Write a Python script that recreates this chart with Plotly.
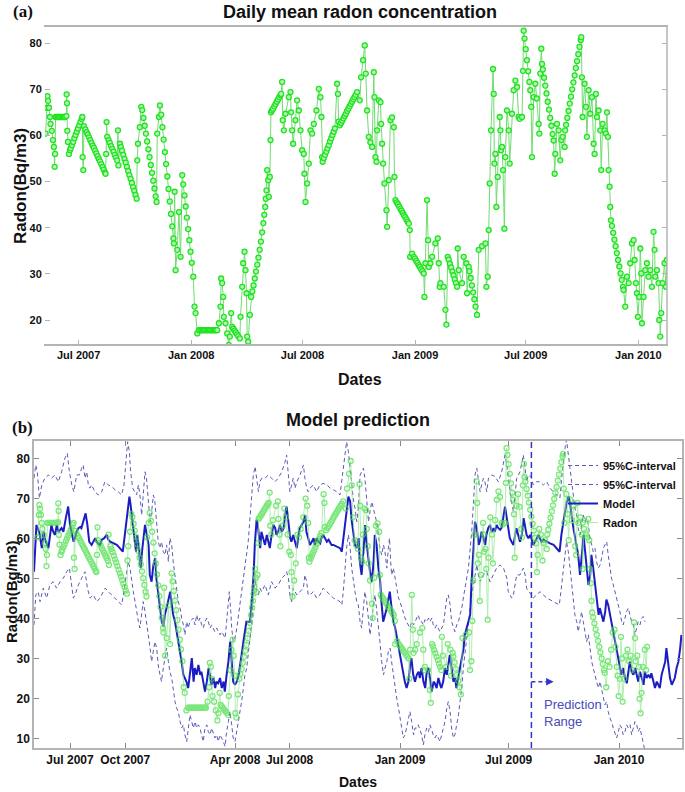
import pandas as pd
import plotly.graph_objects as go

W, H = 685, 792
START = pd.Timestamp("2007-05-01")

# daily mean radon, (days since 1 May 2007, Bq/m3)
radon_points = [
    (7, 60.4), (9, 66), (10, 68.5), (11, 67.5), (12.5, 66), (14, 64), (15, 62.5), (17, 61), (19, 59),
    (20.5, 57.5), (21.8, 53.2), (22.5, 56), (23.4, 64), (25, 64), (27, 64), (29, 64), (31, 64), (33, 64),
    (35, 64), (37, 64), (39, 64), (41, 64.2), (41.4, 68.9), (42, 67), (42.5, 61), (43.5, 58.6), (45.2, 56),
    (46.8, 56.8), (48, 57.2), (50, 57.9), (52, 58.6), (54, 59.4), (56, 60.1), (58, 60.8), (60, 61.5),
    (62, 62.2), (64, 62.9), (66, 63.6), (67, 64), (67.5, 55.3), (68.6, 52.5), (69.7, 62), (72, 61.3),
    (74, 60.7), (76, 60.2), (78, 59.6), (80, 59), (82, 58.4), (84, 57.8), (86, 57.3), (88, 56.7), (90, 56.1),
    (92, 55.5), (94, 54.9), (96, 54.4), (98, 53.8), (100, 53.2), (102, 52.6), (104, 52), (105, 51.7),
    (106, 56), (106.7, 62.9), (107.8, 59.7), (110, 59), (112, 58.4), (114, 57.7), (116, 57.1), (118, 56.5),
    (120, 55.8), (122, 55.2), (124, 54.6), (125.3, 61.1), (126, 53.5), (128.5, 58.2), (130, 57.5),
    (132, 56.7), (134, 55.8), (136, 54.9), (138, 54.1), (140, 53.2), (142, 52.3), (144, 51.4), (146, 50.6),
    (148, 49.7), (150, 48.8), (152, 48), (154, 47.1), (155.8, 46.3), (156.8, 54.6), (158, 58.2), (161, 61.8),
    (163.4, 66.2), (165, 65.5), (167, 63.8), (169, 62.1), (171, 60.4), (173, 58.7), (175, 57), (177, 55.3),
    (179, 53.6), (181, 51.9), (183, 50.2), (185, 48.5), (187, 46.8), (188.4, 45.6), (189.5, 60.4),
    (192.3, 64), (193.9, 66.5), (196, 64.5), (198, 61.8), (200, 59.1), (202, 56.4), (204, 53.8), (206, 51.1),
    (208, 48.4), (210, 45.7), (212, 43), (214, 40.3), (216, 37.7), (216.8, 36.6), (218, 47.8), (219.5, 30.8),
    (222.2, 35.2), (225, 43.4), (227.7, 33.7), (230.4, 51.4), (232, 49.4), (234, 47), (236, 44.6),
    (238, 42.2), (240, 39.7), (242, 37.3), (244, 34.8), (246, 32.4), (248.4, 29.4), (250.5, 22.9),
    (252.2, 21.5), (255, 17.1), (257.6, 17.8), (260, 17.8), (262, 17.8), (264, 17.8), (266, 17.8),
    (268, 17.8), (270, 17.8), (272, 17.8), (274, 17.8), (276, 17.8), (278, 17.8), (280, 17.8), (282, 17.8),
    (284, 17.8), (286, 17.8), (287.5, 17.8), (290.3, 19.3), (293, 22.9), (294, 29), (295.7, 28),
    (297.3, 25), (298.4, 20.7), (301.2, 19.3), (303.9, 17.1), (306.6, 14.6), (308.2, 16.4), (310.4, 21.5),
    (312, 18.5), (314, 18.1), (316, 17.7), (318, 17.3), (320, 16.9), (322, 16.5), (324.6, 16), (325.7, 20.7),
    (328.4, 27.2), (330, 32.3), (332.2, 34.8), (333.8, 30.8), (335.5, 25.8), (336.6, 16.4), (338.2, 15.3),
    (340.9, 21.1), (343.1, 25), (345, 26.2), (347, 27.5), (349, 29), (351, 30.5), (353, 32), (355, 33.5),
    (357, 35.2), (359, 37), (361, 39), (363, 41), (364.5, 42.8), (366, 44.5), (367, 46.3), (368.1, 48.1),
    (369.2, 52.5), (370.9, 50.3), (372, 46.7), (373.6, 51), (374.7, 59), (375.5, 65), (377, 65.4),
    (379, 65.8), (381, 66.3), (383, 66.8), (385, 67.3), (387, 67.8), (389, 68.3), (391, 68.7), (392.1, 69),
    (393.7, 71.6), (394.8, 63.3), (396.5, 61.1), (399.2, 64.7), (404.6, 68.3), (407.4, 69.4), (408.4, 65),
    (410.1, 61.1), (411.7, 58.2), (415.5, 63.3), (418.2, 67.6), (421, 65.4), (423.7, 61.1), (426.4, 56.8),
    (429.1, 56), (430.2, 51.7), (431.9, 45.6), (434.6, 49.6), (437.3, 53.9), (440, 61.1), (442.8, 60.4),
    (445.5, 62.5), (449.8, 65.4), (453.7, 70.1), (456.4, 68.3), (458, 64), (459.1, 55.3), (460, 54.3),
    (462, 55.1), (464, 55.8), (466, 56.5), (468, 57.2), (470, 57.9), (472, 58.7), (474, 59.4), (476, 60.1),
    (478, 60.8), (480, 61.5), (483.6, 71.2), (485, 69), (486, 63), (488, 62.2), (490, 62.7), (492, 63.2),
    (494, 63.7), (496, 64.2), (498, 64.7), (500, 65.3), (502, 65.8), (504, 66.3), (506, 66.8), (508, 67.3),
    (510, 67.8), (512, 68.3), (514, 68.8), (516.3, 69.4), (520.6, 67.6), (522.8, 72.6), (526.1, 76.3),
    (528.8, 79.5), (530.5, 73.4), (532.6, 65.4), (535.4, 59.7), (538, 58.5), (540.9, 57.5), (543.6, 73.7),
    (544.7, 68.3), (546.3, 55.3), (548, 54.3), (549, 61.1), (551.8, 67.6), (554.5, 67.2), (555.6, 62.5),
    (557.2, 58.2), (558.8, 53.9), (561, 49.6), (564.3, 43.8), (565.4, 40.2), (568.1, 50.3), (570.8, 63.3),
    (573.5, 63.9), (576.3, 61.8), (577.4, 51), (579, 46), (581, 45.5), (583, 45.1), (585, 44.6), (587, 44.1),
    (589, 43.7), (591, 43.2), (593, 42.7), (595, 42.3), (597, 41.8), (599, 41.3), (600.8, 40.9),
    (602.4, 39.5), (603, 33.7), (606.2, 34.4), (609, 33.7), (611, 33.3), (613, 32.8), (615, 32.4),
    (617, 31.9), (619, 31.5), (621, 31), (623, 30.6), (625.3, 30.1), (626.4, 25), (628, 32.3), (630.7, 46),
    (632.4, 37.3), (633.5, 31.5), (636.2, 32.3), (638.9, 33.7), (644.3, 36.6), (648.2, 37.7), (649.8, 32.3),
    (651.4, 27.2), (652.5, 28), (658, 27.2), (660.7, 22.2), (662.3, 19), (664.5, 33.7), (666, 33.1),
    (668, 32.2), (670, 31.4), (672, 30.5), (674, 29.7), (676, 28.8), (678, 28), (679.8, 27.2), (680.8, 35.5),
    (682.5, 30.8), (687.9, 28), (690.6, 33.7), (695, 32.3), (696.1, 25.8), (698.8, 31.5), (700, 30.6),
    (702, 29.1), (704, 27.5), (706, 26), (708, 24.5), (710, 22.9), (712.4, 21.1), (715.2, 35.2), (720.6, 36),
    (726.1, 36.6), (727.7, 27.2), (729.9, 29.4), (731.5, 39.5), (733.1, 49.6), (735.3, 61.1), (738.6, 74.4),
    (739.7, 69), (740.8, 53.9), (742.4, 56), (744, 44.5), (746.2, 51), (749.5, 64), (750.6, 61.1),
    (751.6, 56.8), (753.3, 57.5), (754.9, 52.5), (757.1, 39.8), (758.7, 55.3), (761.4, 65.4), (764.2, 61.1),
    (765.8, 53.9), (769.6, 64.7), (772.3, 69.8), (775.1, 71.9), (777.8, 70.5), (780.4, 64), (782.2, 63.6),
    (786, 64), (787.5, 74), (788.6, 82.7), (790, 81), (792, 78.7), (794, 76.3), (796, 73.9), (798, 71.6),
    (799.5, 69.8), (801, 66.2), (802.2, 55.3), (805, 68.3), (807.7, 71.2), (810, 68), (813.1, 62.5),
    (814.2, 60.4), (815.8, 73.4), (817.5, 78.8), (818.6, 75.5), (820, 74.3), (822, 72.5), (824, 70.8),
    (826, 69.1), (828, 67.3), (830, 65.6), (832, 63.8), (834, 62.1), (836, 60.3), (837.6, 58.9),
    (839.3, 51.7), (840.4, 56), (843.1, 62.5), (845.8, 61.1), (848.5, 54.6), (850.2, 59), (852.3, 59.7),
    (855.6, 57.5), (856.5, 61.1), (858, 62.3), (860, 63.8), (862, 65.3), (864, 66.9), (866, 68.4), (868, 70),
    (870, 71.5), (872, 73), (874, 74.6), (876, 76.1), (878, 77.6), (880, 79.2), (882, 80.7), (882.8, 81.3),
    (883.9, 72.6), (885, 64), (888.3, 71.2), (890.5, 66.2), (892.1, 59.7), (894.8, 69.8), (897.5, 64.7),
    (900.3, 68.3), (903, 58.2), (904.6, 56), (906.8, 69), (908.4, 64), (911.2, 65.4), (913.9, 61.1),
    (915.5, 52.5), (917.7, 62.5), (921, 61.1), (923.1, 60.4), (924.8, 65), (926.4, 59.7), (927.5, 52.5),
    (929.1, 48.9), (930.2, 44.5), (931.3, 41.6), (933, 40.4), (935, 38.9), (937, 37.4), (939, 36),
    (941, 34.5), (943, 33), (945, 31.6), (947, 30.1), (949, 28.7), (951, 27.2), (952, 26.5), (954.7, 22.9),
    (957.5, 29.4), (960.2, 28), (962.9, 32.3), (965.6, 36.6), (968.4, 37.3), (970, 33), (972.2, 28),
    (973.8, 25.8), (975.4, 20.7), (977.6, 25), (979.3, 35.5), (980.9, 30.1), (982, 19.3), (984.7, 25),
    (987.4, 30.8), (990.1, 32.3), (992.9, 29.4), (995.6, 30.8), (998.3, 27.2), (1001, 39.1), (1002.7, 35.2),
    (1003.8, 29.4), (1006.5, 30.8), (1009.2, 28), (1010.3, 20), (1012, 16.4), (1013.6, 21.5), (1015.7, 28),
    (1019, 32.3), (1021.2, 27.2), (1022.8, 33),
]

# model output
model_points = [
    (1, 51.8), (5, 63.5), (10, 61.5), (14, 57.7), (17, 61.8), (19, 60), (25, 57.7), (28, 61.8), (30, 63.5),
    (33, 61.8), (36, 61), (39, 63.5), (42, 61.8), (47, 62.7), (50, 61.8), (54, 65.2), (58, 68.1), (61, 63.5),
    (64, 61), (67, 59.3), (69, 60.2), (72, 61.8), (75, 62.7), (78, 63), (80, 62.7), (83, 64.3), (87, 66.4),
    (90, 63.5), (93, 59.3), (97, 58.5), (100, 59.3), (103, 60.2), (105, 59.3), (108, 58.9), (111, 58.5),
    (114, 59.8), (118, 60.2), (122, 61), (125, 59.8), (128, 59.3), (133, 58.9), (139, 58.5), (144, 57.7),
    (149, 56.8), (151, 59.3), (154, 63.5), (158, 67.7), (160, 70.6), (162, 68.5), (165, 64.3), (168, 60.2),
    (171, 56.8), (173, 61), (175, 58.5), (179, 52.7), (181, 56.8), (183, 60.2), (186, 63.5), (189, 61),
    (192, 58.5), (194, 51), (197, 49.3), (200, 53.5), (203, 55.2), (205, 50.2), (208, 46), (211, 42.7),
    (214, 39.3), (217, 38.1), (219, 41), (222, 42.7), (225, 45.2), (228, 46.8), (230, 44.3), (233, 41),
    (236, 39.3), (239, 36.8), (242, 34.3), (244, 31.8), (247, 29.3), (250, 26), (253, 25.2), (255, 24.3),
    (258, 22.7), (261, 26), (264, 30.2), (267, 24.3), (269, 27.7), (272, 26), (275, 28.5), (278, 26),
    (280, 26.8), (283, 24.3), (286, 21.8), (289, 24.3), (292, 27.7), (294, 26), (297, 23.5), (300, 25.2),
    (303, 22.7), (305, 24.3), (308, 23.9), (311, 25.2), (314, 22.7), (317, 24.3), (319, 21.8), (322, 26),
    (325, 29.3), (328, 34.3), (330, 31), (333, 24.3), (336, 23.5), (339, 24.3), (342, 26), (344, 27.7),
    (347, 31), (350, 34.3), (353, 36.8), (355, 39.3), (358, 39.3), (361, 39.3), (364, 44.3), (367, 51),
    (369, 58.5), (372, 64.8), (374, 63.5), (376, 60.2), (378, 57.7), (380, 61.8), (383, 60.2), (386, 58.5),
    (389, 61), (392, 59.3), (394, 57.7), (397, 61), (400, 63.5), (403, 62.7), (405, 61), (408, 61.8),
    (411, 63.5), (414, 61.8), (417, 62.7), (419, 65.2), (422, 68.1), (425, 64.3), (428, 60.2), (430, 59.3),
    (433, 61), (436, 59.3), (439, 57.7), (442, 61), (444, 62.7), (447, 63.5), (450, 64.3), (453, 66),
    (455, 61.8), (458, 60.2), (461, 58.5), (464, 59.3), (467, 60.2), (469, 58.5), (472, 60.2), (475, 59.3),
    (478, 58.9), (480, 60.2), (483, 61), (486, 60.2), (489, 59.3), (492, 59.8), (494, 59.3), (497, 58.5),
    (500, 58.5), (505, 58.1), (511, 57.7), (514, 56.8), (517, 61), (519, 63.5), (522, 66.8), (525, 70.6),
    (528, 69.3), (530, 65.2), (533, 61.8), (536, 58.5), (539, 57.7), (542, 60.2), (544, 54.3), (547, 51),
    (550, 56.8), (553, 63.5), (555, 59.3), (558, 55.2), (561, 51.8), (564, 49.3), (567, 54.3), (569, 61),
    (572, 58.5), (575, 52.7), (578, 49.3), (580, 44.3), (583, 39.3), (586, 41), (589, 42.7), (592, 45.2),
    (594, 46.8), (597, 42.7), (600, 39.3), (603, 37.7), (605, 36), (608, 33.5), (611, 31), (614, 28.5),
    (617, 26), (619, 24.3), (622, 22.7), (625, 24.3), (628, 28.5), (630, 30.2), (633, 26), (636, 24.3),
    (639, 26), (642, 26.8), (644, 25.2), (647, 27.7), (650, 24.3), (653, 22.7), (655, 26), (658, 27.7),
    (661, 25.2), (664, 21.8), (667, 24.3), (669, 23.9), (672, 22.7), (675, 25.2), (678, 23.5), (680, 22.7),
    (683, 24.3), (686, 27.7), (689, 26), (692, 28.5), (694, 31), (697, 27.7), (700, 24.3), (703, 25.2),
    (705, 22.7), (708, 25.2), (711, 27.7), (714, 29.3), (717, 32.7), (719, 36), (722, 37.7), (725, 39.3),
    (728, 41), (730, 48.5), (733, 56.8), (736, 64.3), (739, 62.7), (742, 58.5), (744, 59.3), (747, 61.8),
    (750, 60.2), (753, 58.5), (755, 61), (758, 62.7), (761, 63.5), (764, 61.8), (767, 62.7), (769, 61.8),
    (772, 63.5), (775, 62.7), (778, 62.3), (780, 62.7), (783, 65.2), (786, 68.1), (789, 65.2), (792, 61.8),
    (794, 60.2), (797, 59.3), (800, 58.5), (803, 61), (805, 62.7), (808, 61), (811, 59.3), (814, 61),
    (817, 65.2), (819, 63.5), (822, 61), (825, 60.2), (828, 61), (830, 60.2), (833, 58.5), (836, 59.3),
    (839, 60.2), (842, 61), (844, 60.2), (847, 59.3), (850, 59.8), (855, 59.3), (861, 58.9), (867, 58.5),
    (872, 57.7), (877, 56.8), (880, 61), (883, 64.3), (886, 66.8), (889, 69.3), (892, 70.6), (894, 69.3),
    (897, 65.2), (900, 62.7), (903, 60.2), (905, 58.5), (908, 56), (911, 51), (914, 56), (917, 61),
    (919, 57.7), (922, 52.7), (925, 48.5), (928, 51), (930, 56), (933, 52.7), (936, 48.5), (939, 44.3),
    (942, 41), (944, 42.7), (947, 41), (950, 39.3), (953, 41.8), (955, 44.8), (958, 43.5), (961, 41),
    (964, 38.5), (967, 36.8), (969, 34.3), (972, 31.8), (975, 29.3), (978, 26.8), (980, 26), (983, 27.7),
    (986, 25.2), (989, 23.9), (992, 27.7), (994, 29.3), (997, 26.8), (1000, 26), (1003, 27.7), (1005, 26),
    (1008, 24.3), (1011, 26.8), (1014, 25.2), (1017, 23.5), (1019, 26.8), (1022, 25.2), (1025, 26),
    (1028, 25.2), (1030, 26.4), (1033, 24.3), (1036, 22.7), (1039, 24.3), (1042, 23.5), (1044, 22.7),
    (1047, 26), (1050, 27.7), (1053, 29.3), (1055, 32.7), (1058, 29.3), (1061, 25.2), (1064, 23.5),
    (1067, 24.3), (1069, 25.2), (1072, 27.7), (1075, 29.3), (1078, 32.7), (1080, 36),
]

# upper 95% confidence bound
upper_points = [
    (1, 75.2), (4, 78.5), (6.5, 76.8), (10, 70.2), (14, 73.5), (19, 75.2), (25, 76), (30, 75.2), (36, 76),
    (41.5, 74.3), (47, 76.8), (52.5, 80.2), (56.5, 81.4), (60, 76.8), (64, 73.5), (67.5, 71.8), (72, 76),
    (76.5, 76), (80.5, 77.7), (83, 78.5), (86, 75.2), (89, 76.8), (91.5, 73.5), (94, 72.7), (97, 73.5),
    (102.5, 71.8), (108, 71), (114, 71.8), (119, 74.3), (125, 73.5), (130.5, 73.1), (136, 72.3),
    (141.5, 71.8), (147, 71), (151, 73.5), (154.5, 81), (157, 84.3), (160, 81.8), (162, 76.8),
    (165.5, 72.7), (169, 71.8), (172, 71), (175, 73.5), (177.5, 71), (180.5, 66), (183, 71.8), (186, 76.8),
    (188.5, 75.2), (191.5, 70.2), (194.5, 64.3), (197, 66.8), (200, 71), (202.5, 69.3), (205.5, 62.7),
    (208, 59.3), (211, 57.7), (213.5, 59.3), (216.5, 56.8), (219.5, 56), (222, 58.5), (225, 54.3),
    (227.5, 60.2), (230.5, 58.5), (233, 54.3), (236, 51), (238.5, 47.7), (241.5, 44.3), (244.5, 42.7),
    (247, 40.2), (250, 38.5), (252.5, 36), (255.5, 39.3), (258, 37.7), (261, 39.3), (266.5, 40.2),
    (269.5, 38.5), (272, 41), (275, 39.3), (277.5, 40.2), (280.5, 38.5), (283, 37.7), (286, 39.3),
    (289, 40.2), (291.5, 39.3), (294.5, 37.7), (297, 38.5), (300, 37.7), (302.5, 36.8), (305.5, 37.7),
    (308, 36.8), (311, 36), (314, 36.8), (316.5, 36), (319.5, 35.2), (322, 39.3), (325, 44.3), (326.5, 46.8),
    (329, 41.8), (330.5, 37.7), (333, 34.3), (336, 35.2), (339, 37.7), (341.5, 41), (344.5, 44.3),
    (347, 46.8), (350, 50.2), (352.5, 52.7), (355.5, 56), (358, 59.3), (361, 65.2), (364, 71), (366.5, 76),
    (369.5, 78.1), (372, 75.2), (375, 71.8), (377.5, 74.3), (380.5, 75.2), (386, 75.2), (391.5, 76),
    (397, 75.2), (402.5, 74.3), (408, 75.2), (414, 76.8), (419.5, 79.3), (422, 81), (425, 76), (427.5, 71.8),
    (430.5, 73.5), (433, 75.2), (436, 72.7), (439, 74.3), (444.5, 76), (450, 78.5), (452.5, 75.2),
    (455.5, 72.7), (458, 71.8), (461, 72.7), (466.5, 73.5), (472, 71.8), (477.5, 73.5), (483, 73.9),
    (489, 73.5), (494.5, 72.7), (500, 72.3), (505.5, 71.8), (511, 71), (514, 74.3), (516.5, 77.7),
    (519.5, 81), (522, 84.3), (525, 81.8), (527.5, 77.7), (530.5, 73.5), (533, 70.2), (536, 67.7),
    (539, 64.3), (541.5, 67.7), (544.5, 76), (547, 76.8), (550, 77.7), (552.5, 75.2), (555.5, 69.3),
    (558.5, 64.3), (561, 66.8), (564, 69.3), (566.5, 67.7), (569.5, 66), (572, 64.3), (575, 61),
    (577.5, 57.7), (580.5, 56), (583.5, 58.5), (586, 56.8), (589, 52.7), (591.5, 57.7), (593.5, 60.2),
    (595.5, 54.3), (597, 51), (600, 52.7), (602.5, 50.2), (605.5, 47.7), (608.5, 45.2), (611, 44.3),
    (614, 42.7), (616.5, 41.8), (619.5, 40.2), (622, 39.3), (625, 38.5), (627.5, 37.7), (630.5, 39.3),
    (633.5, 38.5), (636, 39.3), (639, 40.2), (641.5, 41), (644.5, 39.3), (647, 39.3), (650, 38.5),
    (652.5, 39.8), (655.5, 39.3), (658.5, 40.2), (661, 39.3), (664, 40.2), (666.5, 38.5), (669.5, 37.7),
    (672, 38.5), (675, 37.7), (677.5, 36.8), (680.5, 37.7), (683.5, 38.5), (686, 41.8), (689, 45.2),
    (691.5, 46), (694.5, 43.5), (697, 39.3), (700, 37.7), (702.5, 36.8), (705.5, 38.5), (708.5, 39.3),
    (711, 41), (714, 42.7), (716.5, 45.2), (719.5, 47.7), (722, 49.3), (725, 52.7), (727.5, 56.8),
    (730.5, 61.8), (733.5, 69.3), (736, 76), (739, 77.7), (741.5, 75.2), (744.5, 71.8), (747, 73.5),
    (750, 75.2), (752.5, 74.3), (755.5, 71.8), (758.5, 75.2), (764, 76), (769.5, 75.6), (775, 74.3),
    (780.5, 76.8), (783.5, 79.3), (786, 81), (789, 78.5), (791.5, 75.2), (794.5, 72.7), (797, 69.3),
    (800, 66.8), (802.5, 70.2), (805.5, 75.2), (811, 76.8), (816.5, 81), (819.5, 77.7), (822, 74.3),
    (825, 76), (830.5, 75.2), (833, 73.5), (838.5, 74.3), (844.5, 74.3), (850, 73.5), (855.5, 74.3),
    (861, 72.7), (866.5, 71.8), (872, 71), (877.5, 70.2), (880.5, 75.2), (883, 79.3), (886, 82.7),
    (888.5, 84.8), (891.5, 81), (894.5, 76.8), (897, 73.5), (900, 70.2), (902.5, 67.7), (905.5, 66),
    (908, 62.7), (911, 61), (913.5, 63.5), (916.5, 66), (919.5, 64.3), (922, 65.2), (925, 63.5),
    (927.5, 60.2), (930.5, 58.5), (933, 56.8), (936, 57.7), (938.5, 54.3), (941.5, 52.7), (944.5, 53.5),
    (947, 55.2), (950, 57.7), (952.5, 58.5), (955.5, 59.3), (958, 56), (961, 52.7), (963.5, 50.2),
    (966.5, 48.5), (969.5, 46.8), (972, 45.2), (975, 43.5), (977.5, 41.8), (980.5, 39.3), (983, 38.5),
    (986, 40.2), (988.5, 41.8), (991.5, 42.7), (994.5, 41), (997, 39.3), (1000, 38.5), (1002.5, 36),
    (1005.5, 37.7), (1008, 39.3), (1011, 38.5), (1013.5, 40.2), (1016.5, 40.6), (1019.5, 39.3),
]

# lower 95% confidence bound
lower_points = [
    (1, 38.5), (4, 46), (8, 46.8), (11, 44.3), (16.5, 47.7), (22, 45.2), (27.5, 48.5), (33, 49.3),
    (38.5, 47.7), (44.5, 49.3), (50, 50.2), (55.5, 51.8), (60, 52.7), (63.5, 47.7), (66.5, 45.2),
    (69.5, 46), (75, 48.5), (80.5, 50.2), (86, 51.8), (90, 47.7), (94.5, 45.2), (100, 46), (105.5, 44.3),
    (111, 45.2), (116.5, 46.8), (119.5, 47.7), (125, 46.8), (130.5, 46), (136, 45.2), (141.5, 44.3),
    (147, 43.5), (150, 46), (154.5, 51), (158, 54.3), (161, 52.7), (163.5, 49.3), (166.5, 46.8),
    (169.5, 44.3), (172, 41.8), (175, 39.3), (177.5, 37.7), (180.5, 41), (183, 44.3), (186, 41.8),
    (188.5, 39.3), (191.5, 36), (194.5, 32.7), (197, 29.3), (200, 31.8), (202.5, 34.3), (205.5, 32.7),
    (208, 28.5), (211, 26), (213.5, 24.3), (216.5, 27.7), (219.5, 31), (222, 32.7), (225, 29.3),
    (227.5, 26.8), (230.5, 25.2), (233, 21.8), (236, 19.3), (238.5, 17.7), (241.5, 16.8), (244.5, 14.3),
    (247, 12.7), (250, 13.5), (252.5, 11), (255.5, 9.3), (258, 11.8), (261, 16), (266.5, 12.7),
    (269.5, 14.3), (272, 12.7), (275, 13.5), (277.5, 12.7), (280.5, 11), (283, 9.3), (286, 12.7),
    (289, 13.5), (291.5, 11.8), (294.5, 11), (297, 12.7), (300, 11), (302.5, 10.2), (305.5, 11), (308, 9.3),
    (311, 11), (314, 10.2), (316.5, 9.3), (319.5, 8.1), (322, 11.8), (325, 14.3), (327.5, 16.8),
    (330.5, 13.5), (333, 10.2), (336, 9.3), (339, 11.8), (341.5, 14.3), (344.5, 16.8), (347, 19.3),
    (350, 22.7), (352.5, 26), (355.5, 27.7), (358, 31), (361, 34.3), (364, 39.3), (366.5, 45.2),
    (369.5, 50.2), (372, 46.8), (375, 46), (377.5, 47.7), (380.5, 46.8), (386, 48.5), (391.5, 46),
    (397, 49.3), (402.5, 47.7), (408, 48.5), (414, 50.2), (419.5, 51), (422, 51.8), (425, 50.2), (427.5, 46),
    (430.5, 44.3), (433, 47.7), (439, 46), (444.5, 46.8), (450, 47.7), (452.5, 51), (455.5, 49.3), (458, 46),
    (461, 46), (466.5, 46.8), (472, 45.2), (477.5, 46), (483, 47.7), (489, 46.8), (494.5, 46), (500, 45.2),
    (505.5, 44.8), (511, 44.3), (514, 43.5), (516.5, 46.8), (519.5, 52.7), (522, 57.7), (525, 61),
    (527.5, 58.5), (530.5, 52.7), (533, 49.3), (536, 46.8), (539, 44.3), (541.5, 43.5), (544.5, 39.3),
    (547, 37.7), (550, 42.7), (552.5, 46.8), (555.5, 44.3), (558.5, 40.2), (561, 36), (564, 39.3),
    (566.5, 43.5), (569.5, 46), (572, 42.7), (575, 38.5), (577.5, 34.3), (580.5, 29.3), (583.5, 26),
    (586, 27.7), (589, 29.3), (591.5, 31.8), (594.5, 32.7), (597, 29.3), (600, 26), (602.5, 22.7),
    (605.5, 20.2), (608.5, 17.7), (611, 15.2), (614, 12.7), (616.5, 10.2), (619.5, 11), (622, 12.7),
    (625, 14.3), (627.5, 16.8), (630.5, 14.3), (633.5, 11), (636, 12.7), (639, 12.7), (641.5, 13.5),
    (644.5, 11.8), (647, 11), (650, 8.5), (652.5, 11), (655.5, 12.7), (658.5, 11.8), (661, 13.5),
    (664, 11.8), (666.5, 11), (669.5, 10.2), (672, 11), (675, 10.2), (677.5, 9.3), (680.5, 11),
    (683.5, 12.7), (686, 14.3), (689, 17.7), (691.5, 19.3), (694.5, 16.8), (697, 12.7), (700, 10.2),
    (702.5, 11), (705.5, 13.5), (708.5, 16), (711, 19.3), (714, 22.7), (716.5, 27.7), (719.5, 31.8),
    (722, 36), (725, 39.3), (727.5, 42.7), (730.5, 46), (733.5, 48.5), (736, 51), (739, 53.5), (741.5, 51),
    (744.5, 49.3), (747, 50.2), (750, 51), (755.5, 51.8), (761, 49.3), (766.5, 51), (772, 52.7),
    (777.5, 53.5), (783.5, 52.7), (789, 50.2), (791.5, 46.8), (794.5, 46), (797, 45.2), (800, 46),
    (802.5, 48.5), (805.5, 51), (811, 51), (816.5, 52.7), (819.5, 51), (822, 47.7), (825, 46.8),
    (830.5, 46), (833, 45.2), (838.5, 46), (844.5, 46.8), (850, 46), (855.5, 45.2), (861, 44.8),
    (866.5, 44.3), (872, 43.9), (876.5, 43.5), (880.5, 48.5), (883, 52.7), (886, 56), (888.5, 59.3),
    (891.5, 56.8), (894.5, 52.7), (897, 48.5), (900, 44.3), (902.5, 41), (905.5, 39.3), (908, 36.8),
    (911, 39.3), (913.5, 41.8), (916.5, 39.3), (919.5, 36.8), (922, 34.3), (925, 36), (927.5, 32.7),
    (930.5, 29.3), (933, 27.7), (936, 26), (938.5, 24.3), (941.5, 22.7), (944.5, 24.3), (947, 22.7),
    (950, 20.2), (952.5, 18.5), (955.5, 19.3), (958, 16.8), (961, 15.2), (963.5, 14.3), (966.5, 12.7),
    (969.5, 11), (972, 10.2), (975, 11.8), (977.5, 13.5), (980.5, 12.7), (983, 11), (986, 11.8),
    (988.5, 13.5), (991.5, 12.7), (994.5, 13.5), (997, 11), (1000, 12.7), (1002.5, 14.3), (1005.5, 13.5),
    (1008, 11.8), (1011, 12.7), (1013.5, 11), (1016.5, 8.5), (1019.5, 6.8),
]

prediction_start = 830  # day the prediction range begins

top_ticks = ["2007-07-01", "2008-01-01", "2008-07-01", "2009-01-01", "2009-07-01", "2010-01-01"]
top_ticktext = ["Jul 2007", "Jan 2008", "Jul 2008", "Jan 2009", "Jul 2009", "Jan 2010"]
bot_ticks = ["2007-07-01", "2007-10-01", "2008-04-01", "2008-07-01", "2009-01-01", "2009-07-01", "2010-01-01"]
bot_ticktext = ["Jul 2007", "Oct 2007", "Apr 2008", "Jul 2008", "Jan 2009", "Jul 2009", "Jan 2010"]


def split(points):
    days = [p[0] for p in points]
    vals = [p[1] for p in points]
    return START + pd.to_timedelta(days, unit="D"), vals


def day(d):
    return START + pd.Timedelta(days=d)


radon_x, radon_y = split(radon_points)
model_x, model_y = split(model_points)
upper_x, upper_y = split(upper_points)
lower_x, lower_y = split(lower_points)

NARROW = "Liberation Sans Narrow, Arial Narrow, Liberation Sans, Arial"
BOLD = "Liberation Sans, Arial"
CI_COLOR = "#5b5bb5"

fig = go.Figure()

# (a) daily radon
fig.add_trace(go.Scatter(
    x=radon_x, y=radon_y, mode="lines+markers", xaxis="x", yaxis="y", showlegend=False,
    line=dict(color="#70dc70", width=1),
    marker=dict(symbol="circle", size=5, color="#b6f3b6", line=dict(color="#1ee41e", width=1.3)),
))

# (b) model prediction
fig.add_trace(go.Scatter(
    x=upper_x, y=upper_y, mode="lines", name="95%C-interval", xaxis="x2", yaxis="y2",
    line=dict(color=CI_COLOR, width=1, dash="4px,3px"),
))
fig.add_trace(go.Scatter(
    x=lower_x, y=lower_y, mode="lines", name="95%C-interval", xaxis="x2", yaxis="y2",
    line=dict(color=CI_COLOR, width=1, dash="4px,3px"),
))
fig.add_trace(go.Scatter(
    x=model_x, y=model_y, mode="lines", name="Model", xaxis="x2", yaxis="y2",
    line=dict(color="#1c1cc4", width=2),
))
fig.add_trace(go.Scatter(
    x=radon_x, y=radon_y, mode="lines+markers", name="Radon", xaxis="x2", yaxis="y2",
    opacity=0.7,
    line=dict(color="#8fe88f", width=1),
    marker=dict(symbol="circle-open", size=5, color="#44dd44", line=dict(width=1.3)),
))

tick_font = dict(family=NARROW, size=11, color="#111", weight="bold")
tick_font2 = dict(family=NARROW, size=12, color="#111", weight="bold")
frame = "#b4b4b4"

fig.update_layout(
    width=W, height=H,
    margin=dict(l=0, r=0, t=0, b=0),
    paper_bgcolor="white", plot_bgcolor="white",
    xaxis=dict(
        domain=[45 / W, 667 / W], anchor="y", type="date",
        range=[day(6), day(1023)],
        tickvals=top_ticks, ticktext=top_ticktext, tickfont=tick_font,
        ticks="inside", ticklen=4, tickcolor=frame,
        showline=True, linecolor=frame, linewidth=1.5, mirror=True, showgrid=False, zeroline=False,
    ),
    yaxis=dict(
        domain=[1 - 344 / H, 1 - 27 / H], anchor="x",
        range=[14.8, 83.5], tickvals=[20, 30, 40, 50, 60, 70, 80], tickfont=tick_font,
        ticks="inside", ticklen=5, tickcolor=frame,
        showline=True, linecolor="rgba(0,0,0,0)", mirror="ticks", showgrid=False, zeroline=False,
    ),
    xaxis2=dict(
        domain=[34 / W, 682 / W], anchor="y2", type="date",
        range=[day(1), day(1081)],
        tickvals=bot_ticks, ticktext=bot_ticktext, tickfont=tick_font2,
        ticks="inside", ticklen=5, tickcolor="#888",
        showline=True, linecolor=frame, linewidth=1.5, mirror="ticks", showgrid=False, zeroline=False,
    ),
    yaxis2=dict(
        domain=[1 - 748 / H, 1 - 441 / H], anchor="x2",
        range=[7.7, 84.5], tickvals=[10, 20, 30, 40, 50, 60, 70, 80], tickfont=tick_font2,
        ticks="inside", ticklen=5, tickcolor="#888",
        showline=True, linecolor=frame, linewidth=1.5, mirror="ticks", showgrid=False, zeroline=False,
    ),
    legend=dict(
        x=563 / W, y=1 - 451 / H, xanchor="left", yanchor="top",
        bgcolor="rgba(255,255,255,0)", tracegroupgap=0,
        font=dict(family=BOLD, size=11, color="#111", weight="bold"),
    ),
)

# right border of panel (a)
fig.add_shape(type="line", xref="x domain", yref="y domain", x0=1, x1=1, y0=0, y1=1,
              line=dict(color=frame, width=1.5))

# prediction range marker
fig.add_shape(type="line", xref="x2", yref="y2 domain", x0=day(prediction_start), x1=day(prediction_start),
              y0=0, y1=1, line=dict(color="#3434cc", width=1.5, dash="6px,4px"))
fig.add_shape(type="line", xref="x2", yref="y2", x0=day(prediction_start), x1=day(prediction_start + 31),
              y0=24.3, y1=24.3, line=dict(color="#3434cc", width=1.5, dash="4px,3px"))
fig.add_annotation(xref="x2", yref="y2", x=day(prediction_start + 37), y=24.3, ax=-8, ay=0,
                   text="", showarrow=True, arrowhead=2, arrowsize=1, arrowwidth=1.5, arrowcolor="#3434cc")
fig.add_annotation(xref="x2", yref="y2", x=day(prediction_start + 17), y=16.5, xanchor="left",
                   text="Prediction<br>Range", showarrow=False, align="left",
                   font=dict(family="Liberation Sans, Arial", size=13, color="#4a4ab8"))

# titles and labels
texts = [
    ("Daily mean radon concentration", 360, 12, dict(family=NARROW, size=18, weight="bold"), 0),
    ("Model prediction", 358, 420, dict(family=NARROW, size=18, weight="bold"), 0),
    ("(a)", 23, 12, dict(family="Liberation Serif, Times New Roman", size=17, weight="bold"), 0),
    ("(b)", 22, 427, dict(family="Liberation Serif, Times New Roman", size=17, weight="bold"), 0),
    ("Dates", 360, 379, dict(family=BOLD, size=16, weight="bold"), 0),
    ("Dates", 358, 782, dict(family=BOLD, size=14, weight="bold"), 0),
    ("Radon(Bq/m3)", 20, 186, dict(family=BOLD, size=17, weight="bold"), -90),
    ("Radon(Bq/m3)", 11, 592, dict(family=BOLD, size=15, weight="bold"), -90),
]
for txt, px, py, font, ang in texts:
    font = dict(color="#111", **font)
    fig.add_annotation(xref="paper", yref="paper", x=px / W, y=1 - py / H, text=txt,
                       showarrow=False, font=font, textangle=ang, xanchor="center", yanchor="middle")

# the page body has a default margin; drop it so the figure sits at the window origin
fig.write_html("out.html", config={"displayModeBar": False},
               post_script="document.body.style.margin='0px';")
